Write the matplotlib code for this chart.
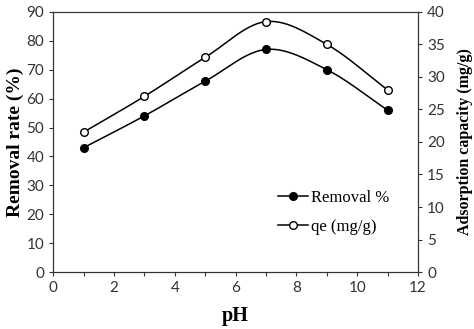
import numpy as np
import matplotlib
matplotlib.use("Agg")
import matplotlib.pyplot as plt
from matplotlib.ticker import MultipleLocator
from matplotlib.lines import Line2D

ph = [1, 3, 5, 7, 9, 11]
removal = [43, 54, 66, 77, 70, 56]
qe = [21.5, 27, 33, 38.5, 35, 28]

def smooth(x, y, n=30):
    x = np.asarray(x, float); y = np.asarray(y, float)
    px = np.concatenate([[2*x[0]-x[1]], x, [2*x[-1]-x[-2]]])
    py = np.concatenate([[2*y[0]-y[1]], y, [2*y[-1]-y[-2]]])
    xs, ys = [], []
    t = np.linspace(0, 1, n)
    for i in range(1, len(px)-2):
        p0, p1, p2, p3 = [np.array([px[j], py[j]]) for j in range(i-1, i+3)]
        for tt in t:
            pt = 0.5*((2*p1) + (-p0+p2)*tt + (2*p0-5*p1+4*p2-p3)*tt**2 + (-p0+3*p1-3*p2+p3)*tt**3)
            xs.append(pt[0]); ys.append(pt[1])
    return xs, ys

fig = plt.figure(figsize=(4.74, 3.29), dpi=100)
ax = fig.add_axes([0.112, 0.173, 0.770, 0.791])
ax2 = ax.twinx()

MS = 5.5
sx, sy = smooth(ph, removal)
ax.plot(sx, sy, color="black", lw=1.1)
ax.plot(ph, removal, "o", color="black", ms=MS, mfc="black")
qx, qy = smooth(ph, qe)
ax2.plot(qx, qy, color="black", lw=1.1)
ax2.plot(ph, qe, "o", color="black", ms=MS, mfc="white", mew=1)

ax.set_xlim(0, 12); ax.set_ylim(0, 90)
ax2.set_ylim(0, 40)
ax.xaxis.set_major_locator(MultipleLocator(2))
ax.xaxis.set_minor_locator(MultipleLocator(1))
ax.yaxis.set_major_locator(MultipleLocator(10))
ax2.yaxis.set_major_locator(MultipleLocator(5))

for a in (ax, ax2):
    a.tick_params(direction="out", length=3, width=0.8, colors="#333333", labelsize=11)
    a.tick_params(which="minor", direction="out", length=3, width=0.8, color="#333333")
    for lab in a.get_xticklabels() + a.get_yticklabels():
        lab.set_fontfamily("Lato")
    for s in a.spines.values():
        s.set_color("#333333")

ax.set_xlabel("pH", family="Liberation Serif", size=14.5, weight="bold", labelpad=8)
ax.set_ylabel("Removal rate (%)", family="Liberation Serif", size=14, weight="bold", labelpad=2)
ax2.set_ylabel("Adsorption capacity (mg/g)", family="Liberation Serif", size=11.5,
               weight="bold", labelpad=9)

handles = [Line2D([0], [0], color="black", lw=1.1, marker="o", ms=MS, mfc="black"),
           Line2D([0], [0], color="black", lw=1.1, marker="o", ms=MS, mfc="white")]
ax.legend(handles, ["Removal %", "qe (mg/g)"], loc="center left",
          bbox_to_anchor=(0.616, 0.229), frameon=False, borderpad=0, borderaxespad=0,
          prop=dict(family="Liberation Serif", size=12), handlelength=1.8,
          handletextpad=0.2, labelspacing=0.75)

fig.savefig("out.png", dpi=100)
